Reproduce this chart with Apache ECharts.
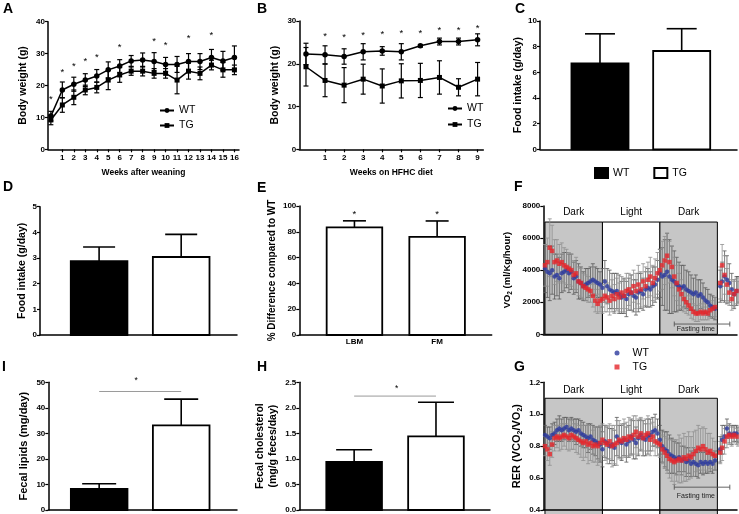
<!DOCTYPE html>
<html><head><meta charset="utf-8">
<script src="https://cdn.jsdelivr.net/npm/echarts@6/dist/echarts.min.js"></script>
<style>
html,body{margin:0;padding:0;background:#fff;width:739px;height:514px;overflow:hidden}
.p{position:absolute;left:0;top:0;width:739px;height:514px}
</style>
</head><body>
<script>
// ---------------- DATA ----------------
// Panel A: body weight after weaning
const weeksA = [0,1,2,3,4,5,6,7,8,9,10,11,12,13,14,15,16];
const wtA    = [10.4,18.6,20.4,21.7,23.0,24.9,26.1,27.7,28.0,27.5,26.6,26.6,27.5,27.5,28.8,27.7,28.8];
const wtAErr = [1.5,2.5,2.2,2.0,2.0,2.5,2.0,1.7,2.2,2.8,2.2,2.5,2.5,2.5,2.5,3.0,3.6];
const tgA    = [9.2,13.9,16.3,18.6,19.4,21.7,23.3,24.5,24.5,23.8,23.8,21.7,24.5,23.8,26.4,24.9,24.9];
const tgAErr = [1.5,2.3,2.3,1.5,1.7,3.0,2.3,1.3,1.5,1.5,1.5,4.3,2.5,2.0,1.5,2.3,1.5];
const starsAx = [0,1,2,3,4,6,9,10,12,14];
const starsAy = [16.5,24.9,26.7,28.2,29.5,32.7,34.6,33.5,35.5,36.5];

// Panel B: body weight on HFHC diet
const weeksB = [0,1,2,3,4,5,6,7,8,9];
const wtB    = [22.3,22.1,21.7,22.8,23.0,22.8,24.2,25.2,25.2,25.6];
const wtBErr = [2.5,2.1,1.8,1.9,1.0,1.9,0.3,0.8,0.8,1.4];
const tgB    = [19.3,16.1,15.0,16.4,14.8,16.0,16.1,16.8,14.5,16.4];
const tgBErr = [4.5,3.8,4.1,3.5,4.0,4.0,4.0,3.9,2.0,3.9];
const starsBx = [1,2,3,4,5,6,7,8,9];
const starsBy = [26.9,26.7,27.3,27.5,27.7,27.7,28.5,28.5,28.8];

// Bar panels (WT, TG)
const groups = ['WT','TG'];
const foodC = [6.7,7.66];  const errC = [2.3,1.74];
const foodD = [2.88,3.04]; const errD = [0.55,0.88];
const catsE = ['LBM','FM'];
const pctE  = [83.5,76.0]; const errE = [5.0,12.4];
const starsEy = [95.6,95.6];
const lipI  = [8.3,33.1];  const errI = [2.0,10.3];
const sigI  = [0,1,46.4,0.45,51.6];   // x0, x1, line y, star x, star y
const cholH = [0.94,1.44]; const errH = [0.24,0.67];
const sigH  = [0,1,2.23,0.52,2.42];

// Panels F & G: indirect calorimetry over time (hours)
const hours = [0,0.5,1,1.5,2,2.5,3,3.5,4,4.5,5,5.5,6,6.5,7,7.5,8,8.5,9,9.5,10,10.5,11,11.5,
  12,12.5,13,13.5,14,14.5,15,15.5,16,16.5,17,17.5,18,18.5,19,19.5,20,20.5,21,21.5,22,22.5,23,23.5,
  24,24.5,25,25.5,26,26.5,27,27.5,28,28.5,29,29.5,30,30.5,31,31.5,32,32.5,33,33.5,34,34.5,35,35.5,
  36.6,37,37.5,38,38.5,39,39.5,40,40.3];
const phaseStart = [0,12,24];
const phaseEnd   = [12,24,36];
const phaseName  = ['Dark','Light','Dark'];
const fasting    = [27,38.6,31.5];   // start, end, label x

const vo2WT = [4100,3900,3800,4000,3600,3700,3500,3800,3900,4000,3800,3900,3500,3600,3300,3200,3000,3100,3200,3300,3400,3300,3200,3100,
  2900,3300,3000,2800,2700,2600,2700,2500,2300,2400,2200,2500,2600,2400,2300,2600,2700,2500,2800,2900,2800,3000,3100,3400,
  3800,3600,3700,3900,3600,3400,3300,3100,3000,2900,3000,2800,2700,2600,2500,2600,2400,2500,2300,2100,2000,1800,1700,1600,
  3000,3300,3600,3400,3200,2800,2500,2700,2800];
const vo2WTErr = [1500,1600,1700,1500,1400,1300,1300,1200,1200,1100,1200,1100,1000,1000,1100,1000,900,1000,900,900,1000,900,900,800,
  1200,1300,1100,1200,1100,1200,1100,1200,1000,1100,1100,1000,1100,1000,1100,1200,1100,1000,1100,1200,1100,1200,1100,1200,
  1500,1800,2200,2400,2300,2100,1900,1700,1500,1400,1300,1200,1200,1100,1000,1100,1000,900,900,800,800,700,700,700,
  1000,1200,1600,1500,1200,1000,900,900,800];
const vo2TG = [4300,4500,5400,5200,4500,4600,4400,4500,4300,4200,4100,4000,3700,3800,3300,3200,3000,2900,2800,2700,2400,2100,1900,2100,
  2200,2400,2300,2100,2400,2200,2500,2300,2600,2400,2700,2800,2600,3000,2700,3100,2800,3300,3000,3400,3600,3200,3500,3800,
  4000,4300,4600,4900,4500,4200,3600,3200,2800,2500,2200,2000,1800,1600,1400,1300,1300,1400,1300,1400,1300,1500,1600,1700,
  3200,4300,3700,3100,2600,2200,2500,2700,2600];
const vo2TGErr = [1300,1500,1800,1600,1400,1300,1200,1200,1100,1100,1000,1000,900,1000,900,900,800,800,800,700,700,700,600,700,
  900,1000,900,900,1000,900,1000,900,1000,1000,1100,1000,1100,1000,1100,1200,1100,1100,1200,1100,1200,1100,1200,1300,
  1300,1500,1500,1400,1300,1300,1200,1100,1000,900,800,700,600,600,500,500,500,500,400,500,400,500,500,600,
  1000,1300,1200,1000,800,700,800,800,700];

const rerWT = [0.87,0.86,0.85,0.87,0.88,0.90,0.91,0.90,0.91,0.92,0.90,0.91,0.90,0.89,0.90,0.88,0.87,0.86,0.85,0.86,0.84,0.83,0.82,0.81,
  0.78,0.83,0.82,0.80,0.81,0.79,0.86,0.83,0.82,0.84,0.81,0.83,0.86,0.84,0.82,0.85,0.87,0.85,0.84,0.86,0.87,0.89,0.90,0.88,
  0.84,0.80,0.78,0.77,0.75,0.74,0.73,0.72,0.73,0.71,0.72,0.70,0.71,0.69,0.70,0.69,0.68,0.70,0.69,0.70,0.69,0.70,0.69,0.71,
  0.78,0.84,0.86,0.91,0.88,0.87,0.88,0.88,0.87];
const rerWTErr = [0.06,0.06,0.07,0.07,0.07,0.07,0.08,0.07,0.07,0.06,0.07,0.07,0.07,0.08,0.07,0.08,0.08,0.07,0.09,0.08,0.09,0.09,0.10,0.11,
  0.11,0.10,0.10,0.11,0.10,0.11,0.12,0.10,0.11,0.10,0.11,0.10,0.11,0.12,0.10,0.11,0.10,0.11,0.10,0.11,0.10,0.09,0.10,0.09,
  0.09,0.10,0.11,0.12,0.12,0.11,0.10,0.10,0.09,0.09,0.08,0.09,0.08,0.08,0.09,0.08,0.08,0.07,0.07,0.07,0.06,0.06,0.06,0.06,
  0.08,0.09,0.07,0.06,0.06,0.06,0.05,0.05,0.05];
const rerTG = [0.80,0.78,0.75,0.81,0.85,0.86,0.85,0.86,0.87,0.86,0.85,0.87,0.86,0.85,0.84,0.83,0.82,0.83,0.81,0.82,0.80,0.81,0.80,0.82,
  0.84,0.82,0.81,0.83,0.80,0.81,0.82,0.84,0.83,0.85,0.84,0.86,0.85,0.87,0.89,0.86,0.88,0.85,0.87,0.88,0.84,0.86,0.83,0.82,
  0.81,0.78,0.76,0.74,0.72,0.71,0.70,0.71,0.72,0.71,0.73,0.72,0.74,0.73,0.75,0.77,0.79,0.78,0.80,0.78,0.76,0.77,0.75,0.74,
  0.76,0.79,0.83,0.86,0.87,0.86,0.87,0.86,0.85];
const rerTGErr = [0.06,0.07,0.07,0.08,0.08,0.07,0.08,0.08,0.07,0.08,0.08,0.09,0.08,0.09,0.09,0.10,0.11,0.10,0.12,0.11,0.10,0.11,0.12,0.11,
  0.10,0.11,0.12,0.11,0.13,0.12,0.14,0.12,0.11,0.12,0.11,0.12,0.11,0.12,0.10,0.11,0.10,0.11,0.10,0.11,0.10,0.09,0.09,0.08,
  0.08,0.09,0.10,0.11,0.12,0.13,0.14,0.13,0.15,0.14,0.15,0.14,0.15,0.13,0.14,0.13,0.14,0.13,0.12,0.13,0.12,0.11,0.10,0.09,
  0.07,0.08,0.08,0.07,0.06,0.06,0.05,0.05,0.05];

// ---------------- HELPERS ----------------
const FONT = "'Liberation Sans', Arial, Helvetica, sans-serif";
const BLUE = '#2c3a9e', RED = '#e5262b';

function mk(option){
  const d = document.createElement('div'); d.className = 'p'; document.body.appendChild(d);
  const c = echarts.init(d, null, {renderer:'canvas'});
  c.setOption(Object.assign({animation:false, backgroundColor:'transparent', textStyle:{fontFamily:FONT}}, option));
  return c;
}
function letter(t, x, y){
  return {type:'text', left:x, top:y, style:{text:t, fontSize:14, fontWeight:'bold', fontFamily:FONT, fill:'#000'}};
}
function grid(l,t,r,b){ return {left:l, top:t, width:r-l, height:b-t}; }
function yAx(min,max,interval,name,nameGap,fmt,nameStyle){
  return {type:'value', min, max, interval, name, nameLocation:'middle', nameGap, nameRotate:90,
    nameTextStyle: Object.assign({fontSize:10.5, fontWeight:'bold', color:'#000', fontFamily:FONT, lineHeight:13}, nameStyle||{}),
    axisLine:{show:true, onZero:false, lineStyle:{color:'#000', width:1.5}},
    axisTick:{show:true, length:3, lineStyle:{color:'#000', width:1.2}},
    axisLabel:{fontSize:8, fontWeight:'bold', color:'#000', margin:3, fontFamily:FONT, formatter:fmt || (v=>String(v))},
    splitLine:{show:false}};
}
function xPlain(min,max){
  return {type:'value', min, max, axisLine:{show:true, onZero:false, lineStyle:{color:'#000', width:1.5}},
    axisTick:{show:false}, axisLabel:{show:false}, splitLine:{show:false}};
}
function xWeeks(min,max,ticks,name){
  return {type:'value', min, max, name, nameLocation:'middle', nameGap:19,
    nameTextStyle:{fontSize:8.5, fontWeight:'bold', color:'#000', fontFamily:FONT},
    axisLine:{show:true, onZero:false, lineStyle:{color:'#000', width:1.5}},
    axisTick:{show:true, length:3, customValues:ticks, lineStyle:{color:'#000', width:1.2}},
    axisLabel:{customValues:ticks, fontSize:8, fontWeight:'bold', color:'#000', margin:4, fontFamily:FONT},
    splitLine:{show:false}};
}
function errSeries(xs, ys, es, cap, color, lw, z){
  return {type:'custom', silent:true, clip:false, z:z||1, encode:{x:0, y:[1,2]},
    data: xs.map((x,i)=>[x, ys[i]-es[i], ys[i]+es[i]]),
    renderItem(p, api){
      const x = api.value(0);
      const lo = api.coord([x, api.value(1)]), hi = api.coord([x, api.value(2)]);
      const st = {stroke:color, lineWidth:lw, fill:null};
      return {type:'group', children:[
        {type:'line', shape:{x1:lo[0],y1:lo[1],x2:hi[0],y2:hi[1]}, style:st},
        {type:'line', shape:{x1:lo[0]-cap,y1:lo[1],x2:lo[0]+cap,y2:lo[1]}, style:st},
        {type:'line', shape:{x1:hi[0]-cap,y1:hi[1],x2:hi[0]+cap,y2:hi[1]}, style:st}]};
    }};
}
function starSeries(xs, ys){
  return {type:'custom', silent:true, clip:false, z:6, data: xs.map((x,i)=>[x, ys[i]]),
    renderItem(p, api){
      const c = api.coord([api.value(0), api.value(1)]);
      return {type:'text', x:c[0], y:c[1]+2.5,
        style:{text:'*', fontSize:9.5, fontFamily:FONT, fill:'#000', align:'center', verticalAlign:'middle'}};
    }};
}
function lineSeries(name, xs, ys, sym){
  return {type:'line', name, z:3, data: xs.map((x,i)=>[x, ys[i]]), symbol:sym,
    symbolSize: sym==='circle' ? 5.5 : 5, showSymbol:true,
    lineStyle:{color:'#000', width:1.5}, itemStyle:{color:'#000'}};
}
function barSeries(vals, errs, halfW, cap, fills, names){
  return vals.map((v,i)=>({type:'custom', name:names[i], clip:false, z:2,
    itemStyle:{color:fills[i], borderColor:'#000', borderWidth:1.5},
    data:[[i, v, errs[i]]],
    renderItem(p, api){
      const x = api.value(0), val = api.value(1), e = api.value(2);
      const a = api.coord([x-halfW, val]), b = api.coord([x+halfW, 0]);
      const c = api.coord([x, val]), t = api.coord([x, val+e]);
      const st = {stroke:'#000', lineWidth:1.6, fill:null};
      return {type:'group', children:[
        {type:'line', shape:{x1:c[0],y1:c[1],x2:t[0],y2:t[1]}, style:st},
        {type:'line', shape:{x1:t[0]-cap,y1:t[1],x2:t[0]+cap,y2:t[1]}, style:st},
        {type:'rect', shape:{x:a[0], y:a[1], width:b[0]-a[0], height:b[1]-a[1]},
          style:{fill:fills[i], stroke:'#000', lineWidth:1.8}}]};
    }}));
}
function sigSeries(s){
  return {type:'custom', silent:true, clip:false, z:6, data:[s],
    renderItem(p, api){
      const a = api.coord([api.value(0), api.value(2)]), b = api.coord([api.value(1), api.value(2)]);
      const c = api.coord([api.value(3), api.value(4)]);
      return {type:'group', children:[
        {type:'line', shape:{x1:a[0],y1:a[1],x2:b[0],y2:b[1]}, style:{stroke:'#9a9a9a', lineWidth:1}},
        {type:'text', x:c[0], y:c[1]+2.5, style:{text:'*', fontSize:8.5, fontFamily:FONT, fill:'#000', align:'center', verticalAlign:'middle'}}]};
    }};
}
function phaseSeries(top, labelY){
  return {type:'custom', silent:true, clip:false, z:0,
    data: phaseStart.map((s,i)=>[s, phaseEnd[i], i]),
    renderItem(p, api){
      const s = api.value(0), e = api.value(1), i = api.value(2);
      const a = api.coord([s, top]), b = api.coord([e, 0]);
      const l = api.coord([(s+e)/2, labelY]);
      return {type:'group', children:[
        {type:'rect', shape:{x:a[0], y:a[1], width:b[0]-a[0], height:b[1]-a[1]},
          style:{fill: phaseName[i]==='Dark' ? '#c6c6c6' : '#ffffff', stroke:'#000', lineWidth:1}},
        {type:'text', x:l[0], y:l[1], style:{text:phaseName[i], fontSize:10, fontFamily:FONT, fill:'#000', align:'center', verticalAlign:'middle'}}]};
    }};
}
function fastingSeries(yLine, yLabel){
  return {type:'custom', silent:true, clip:false, z:7, data:[[fasting[0], fasting[1], fasting[2]]],
    renderItem(p, api){
      const a = api.coord([api.value(0), yLine]), b = api.coord([api.value(1), yLine]);
      const l = api.coord([api.value(2), yLabel]);
      const st = {stroke:'#555', lineWidth:0.9};
      return {type:'group', children:[
        {type:'line', shape:{x1:a[0],y1:a[1],x2:b[0],y2:b[1]}, style:st},
        {type:'line', shape:{x1:a[0],y1:a[1]-2.5,x2:a[0],y2:a[1]+2.5}, style:st},
        {type:'line', shape:{x1:b[0],y1:b[1]-2.5,x2:b[0],y2:b[1]+2.5}, style:st},
        {type:'text', x:l[0], y:l[1], style:{text:'Fasting time', fontSize:7, fontFamily:FONT, fill:'#222', align:'center', verticalAlign:'middle'}}]};
    }};
}
function scatter(name, ys, color, sym){
  return {type:'scatter', name, z:4, symbol:sym, symbolSize:4.5,
    data: hours.map((h,i)=>[h, ys[i]]), itemStyle:{color}};
}
const lineLegend = (l,t) => ({data:['WT','TG'], orient:'vertical', left:l, top:t, padding:0, itemWidth:14, itemHeight:6,
  itemGap:4, textStyle:{fontSize:10.5, color:'#000', fontFamily:FONT}});

// ---------------- PANELS ----------------
// A
mk({
  graphic:[letter('A',3,2)],
  grid: grid(48,21.7,239,149.3),
  xAxis: xWeeks(-0.25,16.4,weeksA.slice(1),'Weeks after weaning'),
  yAxis: yAx(0,40,10,'Body weight (g)',18),
  legend: lineLegend(159,105),
  series:[errSeries(weeksA,wtA,wtAErr,2.5,'#000',1.2), errSeries(weeksA,tgA,tgAErr,2.5,'#000',1.2),
    lineSeries('WT',weeksA,wtA,'circle'), lineSeries('TG',weeksA,tgA,'rect'), starSeries(starsAx,starsAy)]
});
// B
mk({
  graphic:[letter('B',257,2)],
  grid: grid(299.3,21,483.3,149.3),
  xAxis: xWeeks(-0.35,9.3,weeksB.slice(1),'Weeks on HFHC diet'),
  yAxis: yAx(0,30,10,'Body weight (g)',18),
  legend: Object.assign(lineLegend(447,103), {itemGap:5}),
  series:[errSeries(weeksB,wtB,wtBErr,2.5,'#000',1.2), errSeries(weeksB,tgB,tgBErr,2.5,'#000',1.2),
    lineSeries('WT',weeksB,wtB,'circle'), lineSeries('TG',weeksB,tgB,'rect'), starSeries(starsBx,starsBy)]
});
// C
mk({
  graphic:[letter('C',515,2)],
  grid: grid(540,21,737,149.3),
  xAxis: xPlain(-0.734,1.677),
  yAxis: yAx(0,10,2,'Food intake (g/day)',11),
  legend:{data:[{name:'WT', icon:'rect'},{name:'TG', icon:'rect'}], left:594, top:167, padding:0, itemWidth:13, itemHeight:10,
    itemGap:24, textStyle:{fontSize:10.5, color:'#000', fontFamily:FONT}},
  series: barSeries(foodC, errC, 0.349, 15, ['#000','#fff'], groups)
});
// D
mk({
  graphic:[letter('D',3,180)],
  grid: grid(40,206.7,237,335),
  xAxis: xPlain(-0.72,1.68),
  yAxis: yAx(0,5,1,'Food intake (g/day)',11),
  series: barSeries(foodD, errD, 0.345, 16, ['#000','#fff'], groups)
});
// E
mk({
  graphic:[letter('E',257,181)],
  grid: grid(299.3,206,491.7,335),
  xAxis: Object.assign(xPlain(-0.667,1.66), {axisLabel:{show:true, customValues:[0,1], formatter:v=>catsE[Math.round(v)],
    fontSize:8, fontWeight:'bold', color:'#000', margin:3, fontFamily:FONT}}),
  yAxis: yAx(0,100,20,'% Difference compared to WT',18,null,{fontSize:10}),
  series: barSeries(pctE, errE, 0.336, 11.5, ['#fff','#fff'], catsE).concat([starSeries([0,1], starsEy)])
});
// F
mk({
  graphic:[letter('F',514,180)],
  grid: grid(543.3,206,737,334.3),
  xAxis: xPlain(-0.35,40.1),
  yAxis: yAx(0,8000,2000,'{a|VO}{s|2}{a| (ml/Kg/hour)}',30,null,{rich:{
    a:{fontSize:9.5, fontWeight:'bold', color:'#000', fontFamily:FONT, lineHeight:12},
    s:{fontSize:6.5, fontWeight:'bold', color:'#000', fontFamily:FONT, lineHeight:6, verticalAlign:'bottom'}}}),
  series:[phaseSeries(7000,7600), errSeries(hours,vo2WT,vo2WTErr,2,'#5a5a5a',0.8,2), errSeries(hours,vo2TG,vo2TGErr,2,'#8f8f8f',0.8,2),
    scatter('WT',vo2WT,BLUE,'circle'), scatter('TG',vo2TG,RED,'rect'), fastingSeries(640,312)]
});
// I
mk({
  graphic:[letter('I',2,360)],
  grid: grid(48.3,382.3,237,510.7),
  xAxis: xPlain(-0.62,1.68),
  yAxis: yAx(0,50,10,'Fecal lipids (mg/day)',18,null,{fontSize:11}),
  series: barSeries(lipI, errI, 0.345, 17, ['#000','#fff'], groups).concat([sigSeries(sigI)])
});
// H
mk({
  graphic:[letter('H',257,360)],
  grid: grid(299.3,382.3,490,510.7),
  xAxis: xPlain(-0.67,1.66),
  yAxis: yAx(0,2.5,0.5,'Fecal cholesterol\n(mg/g feces/day)',20,v=>v.toFixed(1)),
  series: barSeries(cholH, errH, 0.34, 18, ['#000','#fff'], groups).concat([sigSeries(sigH)])
});
// G
mk({
  graphic:[letter('G',514,360)],
  grid: grid(543.3,382.3,737,510.7),
  xAxis: xPlain(-0.35,40.1),
  yAxis: yAx(0.4,1.2,0.2,'{a|RER (VCO}{s|2}{a|/VO}{s|2}{a|)}',20,v=>v.toFixed(1),{rich:{
    a:{fontSize:11, color:'#000', fontFamily:FONT, lineHeight:13},
    s:{fontSize:7, color:'#000', fontFamily:FONT, lineHeight:7, verticalAlign:'bottom'}}}),
  legend:{data:['WT','TG'], orient:'vertical', left:614.5, top:347.5, padding:0, itemWidth:5, itemHeight:5, itemGap:3,
    textStyle:{fontSize:10.5, color:'#000', fontFamily:FONT, padding:[0,0,0,8]}},
  series:[phaseSeries(1.1,1.15), errSeries(hours,rerWT,rerWTErr,2,'#5a5a5a',0.8,2), errSeries(hours,rerTG,rerTGErr,2,'#8f8f8f',0.8,2),
    scatter('WT',rerWT,BLUE,'circle'), scatter('TG',rerTG,RED,'rect'), fastingSeries(0.543,0.487)]
});
</script>
</body></html>
